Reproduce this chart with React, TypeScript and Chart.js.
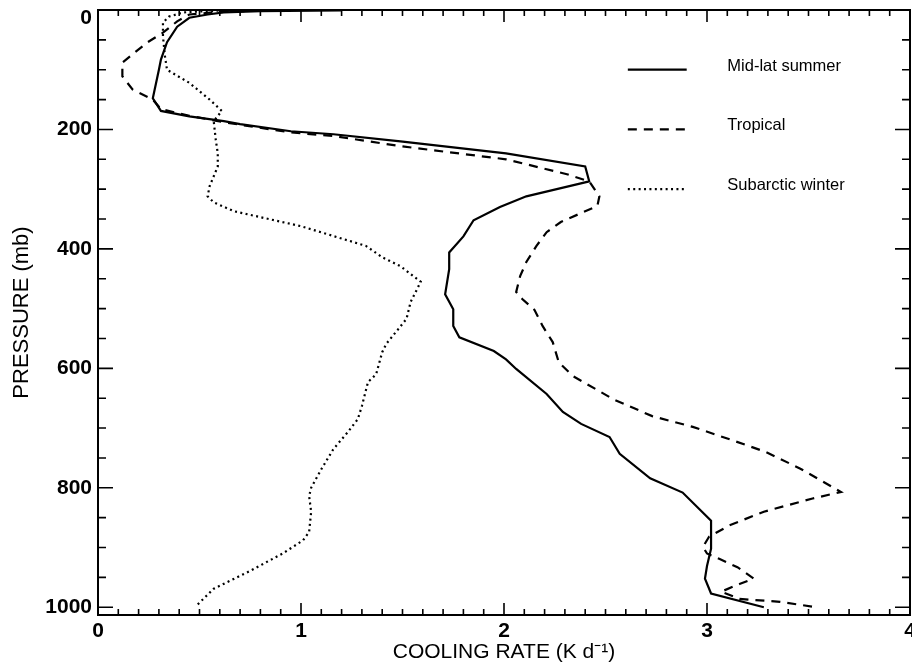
import React, { useEffect, useRef } from 'react';
import { Chart, registerables } from 'chart.js';

Chart.register(...registerables);

// ---------- data (cooling rate K/d, pressure mb) ----------
const seriesNames = ['Mid-lat summer', 'Tropical', 'Subarctic winter'];

const midLatSummer: [number, number][] = [
  [1.2, 0.5], [0.8, 2], [0.62, 4], [0.54, 7.5], [0.45, 13], [0.39, 28], [0.34, 54],
  [0.31, 83], [0.3, 100], [0.27, 148], [0.31, 169], [0.45, 178], [0.62, 186],
  [0.7, 191], [0.95, 203], [1.16, 208], [1.49, 220], [2.01, 240], [2.4, 262],
  [2.42, 287], [2.11, 312], [1.98, 330], [1.85, 352], [1.8, 379], [1.73, 406],
  [1.73, 434], [1.71, 476], [1.75, 501], [1.75, 529], [1.78, 548], [1.95, 571],
  [2.01, 585], [2.06, 601], [2.21, 643], [2.29, 673], [2.38, 693], [2.52, 715],
  [2.57, 743], [2.72, 784], [2.88, 808], [3.02, 855], [3.02, 902], [3.0, 931],
  [2.99, 952], [3.02, 977], [3.28, 1000],
];

const tropical: [number, number][] = [
  [0.8, 1], [0.6, 3], [0.45, 7.5], [0.39, 19], [0.32, 38], [0.24, 55], [0.12, 88],
  [0.12, 103], [0.12, 111], [0.17, 133], [0.27, 150], [0.31, 166], [0.45, 177],
  [0.62, 188], [0.95, 205], [1.16, 211], [1.49, 228], [2.01, 250], [2.31, 275],
  [2.42, 287], [2.47, 312], [2.46, 328], [2.28, 355], [2.21, 372], [2.16, 395],
  [2.11, 422], [2.08, 445], [2.06, 472], [2.09, 484], [2.15, 502], [2.19, 529],
  [2.24, 556], [2.27, 590], [2.34, 613], [2.54, 652], [2.73, 680], [2.93, 698],
  [3.13, 721], [3.29, 740], [3.46, 768], [3.66, 807], [3.52, 818], [3.28, 840],
  [3.11, 863], [3.01, 882], [2.98, 899], [3.0, 910], [3.06, 919], [3.15, 933],
  [3.23, 952], [3.16, 961], [3.07, 974], [3.16, 986], [3.36, 991], [3.52, 999],
];

const subarcticWinter: [number, number][] = [
  [0.7, 0.5], [0.55, 1.5], [0.42, 4], [0.35, 11], [0.32, 21], [0.32, 44], [0.33, 78],
  [0.34, 100], [0.45, 122], [0.55, 150], [0.61, 169], [0.57, 186], [0.58, 217],
  [0.59, 240], [0.59, 262], [0.55, 295], [0.54, 312], [0.57, 322], [0.67, 337],
  [1.0, 362], [1.32, 395], [1.4, 414], [1.49, 429], [1.59, 455], [1.54, 489],
  [1.52, 517], [1.48, 534], [1.42, 559], [1.4, 573], [1.37, 610], [1.33, 623],
  [1.3, 663], [1.28, 685], [1.23, 707], [1.16, 735], [1.1, 769], [1.05, 800],
  [1.04, 814], [1.05, 840], [1.04, 874], [1.01, 888], [0.91, 910], [0.75, 939],
  [0.57, 969], [0.48, 999],
];

const xTickValues = [0, 1, 2, 3, 4];
const yTickValues = [0, 200, 400, 600, 800, 1000];

// ---------- axis settings ----------
const X_MIN = 0;
const X_MAX = 4;
const X_MINOR = 0.1;
const Y_MIN = 0;
const Y_MAX = 1013;
const Y_MINOR = 50;

const FONT = '"Liberation Sans", Arial, Helvetica, sans-serif';
const TICK_FONT = { family: FONT, size: 21, weight: 'bold' as const };

// legend placement in data coordinates
const LEGEND_X0 = 2.61;
const LEGEND_X1 = 2.9;
const LEGEND_TEXT_X = 3.1;
const LEGEND_P = [100, 200, 300];

const framePlugin = {
  id: 'idlFrame',
  afterDatasetsDraw(chart: any) {
    const { ctx, chartArea, scales } = chart;
    const { left, right, top, bottom } = chartArea;
    const xs = scales.x;
    const ys = scales.y;
    ctx.save();
    ctx.strokeStyle = '#000';
    ctx.setLineDash([]);
    ctx.lineWidth = 2;
    ctx.strokeRect(left, top, right - left, bottom - top);

    ctx.lineWidth = 1.6;
    ctx.beginPath();
    const nx = Math.round((X_MAX - X_MIN) / X_MINOR);
    for (let i = 0; i <= nx; i++) {
      const v = X_MIN + i * X_MINOR;
      const px = xs.getPixelForValue(v);
      const len = i % 10 === 0 ? 12 : 6;
      ctx.moveTo(px, bottom);
      ctx.lineTo(px, bottom - len);
      ctx.moveTo(px, top);
      ctx.lineTo(px, top + len);
    }
    for (let v = 0; v <= 1000; v += Y_MINOR) {
      const py = ys.getPixelForValue(v);
      const len = v % 200 === 0 ? 15 : 8;
      ctx.moveTo(left, py);
      ctx.lineTo(left + len, py);
      ctx.moveTo(right, py);
      ctx.lineTo(right - len, py);
    }
    ctx.stroke();

    // top "0" label of the pressure axis, nudged down so it stays inside the page
    ctx.font = `bold 21px ${FONT}`;
    ctx.fillStyle = '#000';
    ctx.textAlign = 'right';
    ctx.textBaseline = 'middle';
    ctx.fillText(String(yTickValues[0]), left - 6, ys.getPixelForValue(yTickValues[0]) + 8);

    // legend
    ctx.font = `16.5px ${FONT}`;
    ctx.textAlign = 'left';
    ctx.textBaseline = 'alphabetic';
    chart.data.datasets.forEach((ds: any, i: number) => {
      const py = ys.getPixelForValue(LEGEND_P[i]);
      const x0 = xs.getPixelForValue(LEGEND_X0);
      const x1 = xs.getPixelForValue(LEGEND_X1);
      ctx.beginPath();
      ctx.setLineDash(ds.borderDash || []);
      ctx.lineWidth = ds.borderWidth;
      ctx.strokeStyle = ds.borderColor;
      ctx.moveTo(x0, py);
      ctx.lineTo(x1, py);
      ctx.stroke();
      ctx.setLineDash([]);
      ctx.fillText(ds.label, xs.getPixelForValue(LEGEND_TEXT_X), py + 1);
    });
    ctx.restore();
  },
};

const toPoints = (arr: [number, number][]) => arr.map(([x, y]) => ({ x, y }));

export default function App() {
  const canvasRef = useRef<HTMLCanvasElement | null>(null);

  useEffect(() => {
    if (!canvasRef.current) return;
    const chart = new Chart(canvasRef.current, {
      type: 'scatter',
      data: {
        datasets: [
          {
            label: seriesNames[0],
            data: toPoints(midLatSummer),
            showLine: true,
            borderColor: '#000',
            borderWidth: 2.2,
            pointRadius: 0,
            fill: false,
          },
          {
            label: seriesNames[1],
            data: toPoints(tropical),
            showLine: true,
            borderColor: '#000',
            borderWidth: 2.2,
            borderDash: [9, 7],
            pointRadius: 0,
            fill: false,
          },
          {
            label: seriesNames[2],
            data: toPoints(subarcticWinter),
            showLine: true,
            borderColor: '#000',
            borderWidth: 2.2,
            borderDash: [2, 3.4],
            pointRadius: 0,
            fill: false,
          },
        ],
      },
      options: {
        animation: false,
        responsive: true,
        maintainAspectRatio: false,
        layout: { padding: { top: 10, right: 2, left: 0, bottom: 0 } },
        plugins: {
          legend: { display: false },
          tooltip: { enabled: false },
        },
        scales: {
          x: {
            type: 'linear',
            position: 'bottom',
            min: X_MIN,
            max: X_MAX,
            grid: { display: false, drawTicks: false },
            border: { display: false },
            ticks: {
              color: '#000',
              padding: 4,
              maxRotation: 0,
              font: TICK_FONT,
              callback: (v: any) => String(v),
            },
            title: {
              display: true,
              text: 'COOLING RATE (K d⁻¹)',
              color: '#000',
              font: { family: FONT, size: 21 },
              padding: { top: 0, bottom: 4 },
            },
            afterBuildTicks: (scale: any) => {
              scale.ticks = xTickValues.map((v) => ({ value: v }));
            },
            afterFit: (scale: any) => {
              scale.height = 54;
              scale.paddingLeft = 0;
              scale.paddingRight = 0;
            },
          },
          y: {
            type: 'linear',
            reverse: true,
            min: Y_MIN,
            max: Y_MAX,
            grid: { display: false, drawTicks: false },
            border: { display: false },
            ticks: {
              color: '#000',
              padding: 6,
              font: TICK_FONT,
              // the top label is drawn by the frame plugin (shifted down)
              callback: (v: any) => (v === yTickValues[0] ? '' : String(v)),
            },
            title: {
              display: true,
              text: 'PRESSURE (mb)',
              color: '#000',
              font: { family: FONT, size: 22 },
              padding: { top: 9, bottom: 0 },
            },
            afterBuildTicks: (scale: any) => {
              scale.ticks = yTickValues.map((v) => ({ value: v }));
            },
            afterFit: (scale: any) => {
              scale.width = 98;
              scale.paddingTop = 0;
              scale.paddingBottom = 0;
            },
          },
        },
      },
      plugins: [framePlugin],
    } as any);
    return () => chart.destroy();
  }, []);

  return (
    <div
      style={{
        position: 'absolute',
        left: 0,
        top: 0,
        width: 912,
        height: 669,
        background: '#fff',
      }}
    >
      <canvas ref={canvasRef} />
    </div>
  );
}
